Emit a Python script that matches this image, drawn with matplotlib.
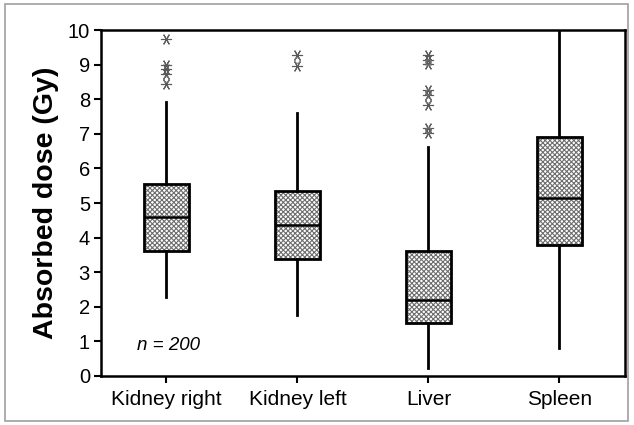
import matplotlib
matplotlib.use("Agg")
import matplotlib.pyplot as plt
from matplotlib.patches import PathPatch, Rectangle

plt.rcParams['font.family'] = ['Liberation Sans', 'DejaVu Sans']
plt.rcParams['hatch.linewidth'] = 0.8

# Box statistics (Gy).
organs = ["Kidney right", "Kidney left", "Liver", "Spleen"]
whisker_low = [2.27, 1.75, 0.22, 0.80]
q1 = [3.62, 3.37, 1.52, 3.79]
median = [4.60, 4.36, 2.20, 5.15]
q3 = [5.54, 5.35, 3.62, 6.90]
whisker_high = [7.91, 7.59, 6.63, 10.0]

# Outliers (asterisks) and the few points drawn as small circles.
outliers = [
    [9.74, 9.00, 8.86, 8.72, 8.45],
    [9.28, 8.96],
    [9.28, 9.13, 9.02, 8.27, 8.12, 7.83, 7.17, 7.02],
    [],
]
circles = [
    [8.58],
    [9.13],
    [9.08, 8.20, 7.98, 7.10],
    [],
]

stats = []
for i in range(len(organs)):
    stats.append({
        "label": organs[i],
        "whislo": whisker_low[i],
        "q1": q1[i],
        "med": median[i],
        "q3": q3[i],
        "whishi": whisker_high[i],
        "fliers": [],
    })

fig = plt.figure(figsize=(6.34, 4.25), dpi=100)
ax = fig.add_axes([0.1593, 0.1153, 0.8265, 0.8141])

# Grey frame round the whole figure.
fig.patches.append(Rectangle((5 / 634, 4 / 425), 623 / 634, 417 / 425, transform=fig.transFigure,
                             fill=False, edgecolor="#a0a0a0", linewidth=1.2))

positions = [1, 2, 3, 4]
bp = ax.bxp(stats, positions=positions, widths=0.34, patch_artist=True, showcaps=False,
            showfliers=False,
            boxprops=dict(facecolor="white", edgecolor="#6e6e6e", linewidth=0, hatch="xxxxxxx"),
            whiskerprops=dict(color="black", linewidth=2.0),
            medianprops=dict(color="black", linewidth=1.8))

# Black outline on top of the grey hatch.
for box in bp["boxes"]:
    ax.add_patch(PathPatch(box.get_path(), facecolor="none", edgecolor="black", linewidth=2.0, zorder=3))

for i, pos in enumerate(positions):
    if outliers[i]:
        ax.plot([pos] * len(outliers[i]), outliers[i], linestyle="none", marker=(6, 2, 30),
                markersize=8, markeredgewidth=0.8, color="#5a5a5a")
    if circles[i]:
        ax.plot([pos] * len(circles[i]), circles[i], linestyle="none", marker="o",
                markersize=4, markeredgewidth=0.8, markerfacecolor="none", color="#777777")

ax.set_xlim(0.5, 4.5)
ax.set_ylim(0, 10)
ax.set_yticks(range(0, 11))
ax.set_xticks(positions)
ax.set_xticklabels(organs)
ax.tick_params(axis="both", direction="out", length=5, width=1.5, pad=3)
ax.tick_params(axis="y", labelsize=14.5)
ax.tick_params(axis="x", labelsize=15, pad=5)
for side in ["left", "bottom", "top", "right"]:
    ax.spines[side].set_linewidth(1.8)

ax.set_ylabel("Absorbed dose (Gy)", fontsize=20.5, fontweight="bold", labelpad=6)
ax.text(0.775, 0.87, "n = 200", style="italic", fontsize=13.5, va="center", ha="left")

fig.savefig("out.png", dpi=100)
